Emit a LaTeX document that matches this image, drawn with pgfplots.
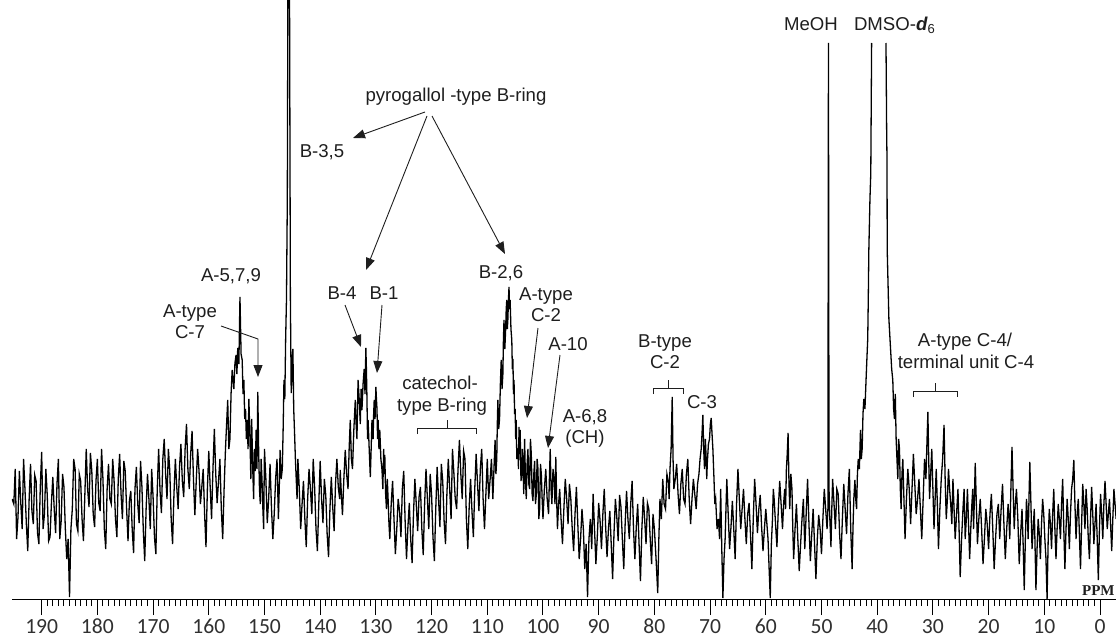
\documentclass[border=0pt]{standalone}
\usepackage{fontspec}
\usepackage{pgfplots}
\pgfplotsset{compat=1.18}
\usetikzlibrary{arrows.meta}
\newfontfamily\arial{Liberation Sans}
\newfontfamily\calib{Carlito}
\newfontfamily\timesf{Liberation Serif}
\definecolor{ink}{HTML}{1E1E1E}
\definecolor{tickgray}{HTML}{303030}

\begin{document}
\begin{tikzpicture}
\begin{axis}[
    at={(6pt,-299.5pt)}, anchor=south west,
    scale only axis, width=552pt, height=299.5pt,
    xmin=-2.87, xmax=195.33, ymin=0, ymax=599,
    x dir=reverse,
    axis x line=bottom, axis y line=none,
    x axis line style={-, line width=0.5pt},
    xtick={0,10,...,190}, minor x tick num=9,
    tick align=outside,
    major tick length=8pt, minor tick length=3.5pt,
    tick style={line width=0.5pt, black},
    xticklabel style={font=\calib\fontsize{10.8}{12}\selectfont, text=tickgray,
        anchor=base, yshift=-9pt, inner sep=0pt,
        /pgf/number format/assume math mode=true},
    unbounded coords=jump,
]
% 13C spectrum, intensity in pixel units above the baseline
\addplot[black, line width=0.65pt] coordinates {
(195.3,100) (195.0,95) (194.75,130) (194.5,60) (194.25,82) (194.0,128) (193.75,96) (193.5,70)
(193.25,140) (193.0,110) (192.75,75) (192.5,48) (192.25,100) (192.0,135) (191.75,88) (191.5,75)
(191.25,124) (191.0,118) (190.75,66) (190.5,55) (190.25,112) (190.0,147) (189.75,70) (189.5,85)
(189.25,130) (189.0,104) (188.75,58) (188.5,62) (188.25,96) (188.0,122) (187.75,90) (187.5,66)
(187.25,115) (187.0,140) (186.75,60) (186.5,78) (186.25,125) (186.0,112) (185.75,70) (185.5,40)
(185.25,60) (185.0,2) (184.75,70) (184.5,90) (184.25,140) (184.0,130) (183.75,75) (183.5,68)
(183.25,125) (183.0,118) (182.75,80) (182.5,58) (182.25,104) (182.0,150) (181.75,110) (181.5,92)
(181.25,146) (181.0,128) (180.75,85) (180.5,72) (180.25,118) (180.0,140) (179.75,96) (179.5,88)
(179.25,150) (179.0,120) (178.75,70) (178.5,50) (178.25,110) (178.0,135) (177.75,100) (177.5,95)
(177.25,140) (177.0,118) (176.75,80) (176.5,62) (176.25,120) (176.0,145) (175.75,105) (175.5,80)
(175.25,138) (175.0,128) (174.75,90) (174.5,58) (174.25,98) (174.0,108) (173.75,70) (173.5,46)
(173.25,110) (173.0,132) (172.75,95) (172.5,76) (172.25,138) (172.0,112) (171.75,68) (171.5,38)
(171.25,90) (171.0,125) (170.75,100) (170.5,70) (170.25,130) (170.0,102) (169.75,62) (169.5,45)
(169.25,110) (169.0,150) (168.75,108) (168.5,86) (168.25,140) (168.0,160) (167.75,125) (167.5,100)
(167.25,150) (167.0,128) (166.75,80) (166.5,55) (166.25,105) (166.0,140) (165.75,112) (165.5,90)
(165.25,132) (165.0,155) (164.75,118) (164.5,102) (164.25,150) (164.0,175) (163.75,130) (163.5,110)
(163.25,145) (163.0,168) (162.75,120) (162.5,84) (162.25,118) (162.0,150) (161.75,128) (161.5,95)
(161.25,112) (161.0,130) (160.75,85) (160.5,52) (160.25,110) (160.0,148) (159.75,112) (159.5,80)
(159.25,130) (159.0,170) (158.75,125) (158.5,96) (158.25,118) (158.0,140) (157.75,90) (157.5,60)
(157.25,110) (157.0,150) (156.8,175) (156.6,199) (156.4,150) (156.2,160) (156.0,205) (155.8,229)
(155.5,210) (155.3,236) (155.1,244) (154.95,225) (154.8,251) (154.6,235) (154.4,302) (154.2,245)
(154.0,239) (153.85,205) (153.7,219) (153.55,180) (153.4,190) (153.25,160) (153.1,179) (152.95,150)
(152.8,200) (152.6,159) (152.45,120) (152.3,180) (152.1,129) (151.95,100) (151.8,150) (151.65,128)
(151.5,169) (151.35,130) (151.2,207) (151.05,150) (150.9,110) (150.75,95) (150.6,140) (150.45,120)
(150.3,92) (150.15,70) (150.0,150) (149.75,120) (149.5,76) (149.25,100) (149.0,135) (148.75,92)
(148.5,60) (148.25,85) (148.0,120) (147.75,140) (147.5,80) (147.35,110) (147.2,149) (147.0,120)
(146.8,130) (146.65,170) (146.5,219) (146.35,200) (146.2,260) (146.05,300) (145.9,400) (145.75,700)
(145.55,700) (145.35,300) (145.2,206) (145.05,230) (144.9,250) (144.75,190) (144.6,166) (144.45,140)
(144.3,120) (144.15,100) (144.0,140) (143.75,110) (143.5,70) (143.25,95) (143.0,118) (142.75,80)
(142.5,52) (142.25,100) (142.0,130) (141.75,110) (141.5,85) (141.25,140) (141.0,112) (140.75,70)
(140.5,48) (140.25,95) (140.0,138) (139.75,100) (139.5,76) (139.25,120) (139.0,104) (138.75,65)
(138.5,42) (138.25,90) (138.0,122) (137.75,92) (137.5,68) (137.25,115) (137.0,140) (136.75,112)
(136.5,100) (136.4,129) (136.2,105) (136.0,84) (135.75,120) (135.5,149) (135.25,125) (135.0,110)
(134.8,150) (134.6,179) (134.4,140) (134.2,130) (133.95,170) (133.7,199) (133.55,175) (133.4,160)
(133.3,190) (133.2,219) (133.0,200) (132.8,175) (132.65,210) (132.5,189) (132.3,215) (132.1,230)
(131.95,205) (131.8,251) (131.7,230) (131.6,200) (131.5,160) (131.4,179) (131.2,150) (131.0,122)
(130.85,150) (130.7,179) (130.6,170) (130.5,160) (130.4,185) (130.3,199) (130.15,180) (130.0,212)
(129.9,200) (129.8,190) (129.7,160) (129.6,179) (129.45,150) (129.3,169) (129.1,140) (128.9,129)
(128.75,110) (128.6,150) (128.5,125) (128.4,144) (128.25,105) (128.1,90) (127.95,120) (127.8,99)
(127.65,75) (127.5,60) (127.25,95) (127.0,118) (126.75,80) (126.5,45) (126.25,70) (126.0,100)
(125.75,88) (125.5,62) (125.25,110) (125.0,128) (124.75,78) (124.5,40) (124.25,72) (124.0,96)
(123.75,60) (123.5,36) (123.25,85) (123.0,120) (122.75,95) (122.5,68) (122.25,102) (122.0,112)
(121.75,70) (121.5,44) (121.25,95) (121.0,130) (120.75,100) (120.5,70) (120.25,125) (120.0,104)
(119.75,62) (119.5,38) (119.25,90) (119.0,132) (118.75,100) (118.5,72) (118.25,135) (118.0,118)
(117.75,78) (117.5,55) (117.25,105) (117.0,140) (116.75,110) (116.5,80) (116.25,150) (116.0,126)
(115.75,100) (115.5,90) (115.25,130) (115.0,159) (114.75,125) (114.5,100) (114.25,148) (114.0,140)
(113.75,80) (113.5,50) (113.25,92) (113.0,120) (112.75,88) (112.5,62) (112.25,110) (112.0,145)
(111.75,115) (111.5,88) (111.25,130) (111.0,150) (110.75,100) (110.5,70) (110.25,105) (110.0,140)
(109.75,100) (109.5,119) (109.25,140) (109.0,100) (108.8,130) (108.6,159) (108.45,125) (108.3,140)
(108.2,175) (108.1,199) (107.95,170) (107.8,180) (107.65,215) (107.5,239) (107.35,210) (107.2,225)
(107.1,260) (107.0,279) (106.85,250) (106.7,270) (106.6,290) (106.5,299) (106.4,270) (106.3,280)
(106.2,300) (106.1,312) (106.0,290) (105.9,299) (105.75,270) (105.6,259) (105.5,230) (105.4,240)
(105.3,205) (105.2,219) (105.1,185) (105.0,190) (104.9,160) (104.8,179) (104.7,140) (104.6,150)
(104.5,149) (104.4,130) (104.3,172) (104.2,145) (104.1,169) (103.95,118) (103.8,125) (103.7,150)
(103.6,134) (103.45,105) (103.3,160) (103.15,120) (103.0,100) (102.85,135) (102.7,150) (102.55,115)
(102.4,110) (102.25,160) (102.1,145) (101.95,105) (101.8,98) (101.65,125) (101.5,138) (101.35,95)
(101.2,104) (101.05,140) (100.9,130) (100.75,80) (100.6,90) (100.45,135) (100.3,125) (100.15,100)
(100.0,80) (99.75,110) (99.5,130) (99.25,100) (99.0,85) (98.85,120) (98.7,150) (98.55,110)
(98.4,95) (98.2,130) (98.0,120) (97.85,95) (97.7,142) (97.55,100) (97.4,70) (97.2,95)
(97.0,110) (96.75,80) (96.5,55) (96.25,90) (96.0,120) (95.75,100) (95.5,75) (95.25,115)
(95.0,100) (94.75,70) (94.5,48) (94.25,85) (94.0,112) (93.75,75) (93.5,40) (93.25,60)
(93.0,90) (92.75,70) (92.5,30) (92.25,55) (92.0,2) (91.75,60) (91.5,80) (91.25,50)
(91.0,105) (90.75,70) (90.5,35) (90.25,62) (90.0,96) (89.75,78) (89.5,50) (89.25,85)
(89.0,110) (88.75,72) (88.5,42) (88.25,70) (88.0,88) (87.75,55) (87.5,20) (87.25,66)
(87.0,100) (86.75,82) (86.5,58) (86.25,104) (86.0,92) (85.75,60) (85.5,30) (85.25,75)
(85.0,108) (84.75,80) (84.5,60) (84.25,95) (84.0,118) (83.75,70) (83.5,40) (83.25,72)
(83.0,95) (82.75,55) (82.5,18) (82.25,70) (82.0,102) (81.75,80) (81.5,55) (81.25,96)
(81.0,90) (80.75,60) (80.5,35) (80.25,85) (80.0,70) (79.7,40) (79.4,6) (79.2,60)
(79.0,100) (78.75,80) (78.5,120) (78.25,95) (78.0,90) (77.75,125) (77.5,118) (77.35,100)
(77.2,130) (77.0,150) (76.8,202) (76.65,140) (76.5,110) (76.25,120) (76.0,135) (75.75,105)
(75.5,85) (75.25,115) (75.0,130) (74.75,100) (74.5,95) (74.25,125) (74.0,140) (73.75,100)
(73.5,75) (73.25,100) (73.0,120) (72.75,105) (72.5,90) (72.25,115) (72.0,125) (71.8,140)
(71.6,150) (71.45,165) (71.3,184) (71.15,150) (71.0,130) (70.85,160) (70.7,140) (70.6,120)
(70.5,136) (70.3,155) (70.1,160) (69.95,175) (69.8,181) (69.65,165) (69.5,150) (69.4,135)
(69.3,120) (69.15,95) (69.0,100) (68.75,70) (68.5,80) (68.3,60) (68.1,110) (67.9,50)
(67.7,1) (67.5,40) (67.3,60) (67.0,120) (66.75,85) (66.5,50) (66.25,72) (66.0,98)
(65.75,70) (65.5,40) (65.25,95) (65.0,130) (64.75,100) (64.5,70) (64.25,90) (64.0,110)
(63.75,80) (63.5,55) (63.25,85) (63.0,96) (62.75,65) (62.5,30) (62.25,80) (62.0,120)
(61.75,95) (61.5,66) (61.25,90) (61.0,104) (60.75,72) (60.5,48) (60.25,70) (60.0,90)
(59.8,75) (59.6,60) (59.4,30) (59.2,1) (59.0,55) (58.8,80) (58.65,110) (58.5,100)
(58.25,75) (58.0,52) (57.75,90) (57.5,118) (57.25,95) (57.0,70) (56.8,95) (56.6,110)
(56.45,90) (56.3,130) (56.15,145) (56.0,166) (55.85,120) (55.7,90) (55.5,125) (55.3,110)
(55.15,70) (55.0,40) (54.75,70) (54.5,95) (54.25,60) (54.0,28) (53.75,55) (53.5,80)
(53.25,100) (53.0,50) (52.75,85) (52.5,120) (52.25,75) (52.0,38) (51.75,65) (51.5,90)
(51.25,55) (51.0,20) (50.75,60) (50.5,84) (50.25,70) (50.0,45) (49.75,80) (49.5,110)
(49.25,90) (49.0,70) (48.85,90) (48.75,556) (48.65,110) (48.5,80) (48.3,52) (48.15,90)
(48.0,120) (47.75,95) (47.5,70) (47.25,110) (47.0,105) (46.75,65) (46.5,40) (46.25,80)
(46.0,115) (45.75,90) (45.5,65) (45.25,105) (45.0,130) (44.75,70) (44.5,30) (44.35,70)
(44.2,100) (44.0,119) (43.85,100) (43.7,90) (43.55,125) (43.4,140) (43.2,130) (43.0,169)
(42.85,140) (42.7,150) (42.55,185) (42.4,200) (42.2,190) (42.0,219) (41.85,240) (41.7,260)
(41.6,300) (41.5,349) (41.3,400) (41.15,426) (41.0,556) (40.0,nan) (38.42,556) (38.30,467)
(38.24,440) (38.2,349) (37.9,280) (37.6,250) (37.4,230) (37.2,219) (37.05,190) (36.9,180)
(36.75,205) (36.6,160) (36.45,140) (36.3,120) (36.15,160) (36.0,150) (35.85,110) (35.7,90)
(35.55,125) (35.4,140) (35.2,100) (35.0,60) (34.75,100) (34.5,130) (34.25,110) (34.0,75)
(33.75,110) (33.5,145) (33.25,115) (33.0,85) (32.75,100) (32.5,120) (32.25,90) (32.0,60)
(31.75,100) (31.5,140) (31.25,120) (31.1,150) (30.9,187) (30.75,140) (30.6,100) (30.4,125)
(30.2,150) (30.0,110) (29.8,70) (29.6,100) (29.4,130) (29.2,95) (29.0,50) (28.75,90)
(28.5,120) (28.25,140) (28.0,174) (27.8,120) (27.6,80) (27.4,100) (27.2,130) (27.0,110)
(26.8,95) (26.6,75) (26.4,120) (26.2,90) (26.0,60) (25.75,85) (25.5,110) (25.3,70)
(25.1,22) (24.85,60) (24.6,90) (24.4,110) (24.2,60) (24.0,80) (23.8,110) (23.6,75)
(23.4,40) (23.2,70) (23.0,95) (22.85,110) (22.7,70) (22.55,100) (22.4,136) (22.2,95)
(22.0,55) (21.75,80) (21.5,100) (21.25,70) (21.0,35) (20.75,60) (20.5,90) (20.25,75)
(20.0,50) (19.75,85) (19.5,105) (19.25,70) (19.0,30) (18.75,60) (18.5,85) (18.25,95)
(18.0,60) (17.75,90) (17.5,115) (17.25,75) (17.0,40) (16.75,70) (16.5,95) (16.35,80)
(16.2,60) (16.0,110) (15.8,152) (15.6,110) (15.4,70) (15.2,95) (15.0,110) (14.75,80)
(14.5,35) (14.25,65) (14.0,90) (13.8,55) (13.6,9) (13.4,60) (13.2,100) (13.05,85)
(12.9,60) (12.75,100) (12.6,137) (12.4,95) (12.2,50) (12.0,70) (11.8,90) (11.65,50)
(11.5,9) (11.3,50) (11.1,80) (10.9,65) (10.7,40) (10.5,75) (10.3,100) (10.1,85)
(9.9,60) (9.7,40) (9.5,0) (9.3,60) (9.1,90) (8.9,75) (8.7,50) (8.5,85)
(8.3,110) (8.1,70) (7.9,40) (7.7,70) (7.5,95) (7.3,80) (7.1,60) (6.9,95)
(6.7,120) (6.5,70) (6.3,30) (6.1,70) (5.9,100) (5.7,80) (5.5,50) (5.3,85)
(5.1,110) (4.9,120) (4.7,139) (4.5,95) (4.3,60) (4.1,85) (3.9,100) (3.7,65)
(3.5,30) (3.3,75) (3.1,115) (2.9,95) (2.7,70) (2.5,110) (2.3,90) (2.1,60)
(1.9,40) (1.7,80) (1.5,112) (1.3,85) (1.1,55) (0.9,75) (0.7,95) (0.5,60)
(0.3,19) (0.1,70) (-0.1,105) (-0.3,85) (-0.5,60) (-0.7,95) (-0.9,118) (-1.1,95)
(-1.3,70) (-1.5,85) (-1.7,100) (-1.9,75) (-2.1,48) (-2.3,80) (-2.5,110) (-2.7,95)
(-2.9,80)
};
\end{axis}

% annotations, in pixel units of the picture (origin top left)
\begin{scope}[x=0.5pt, y=-0.5pt, every node/.style={inner sep=0pt, text=ink,
    font=\arial\fontsize{9.3}{11}\selectfont},
    arr/.style={draw=ink, line width=0.45pt, -{Triangle[width=4.5pt,length=6pt]}}]
\node[anchor=base] at (811,31) {MeOH};
\node[anchor=base] at (895,31) {DMSO-\textit{\textbf{d}}\textsubscript{6}};
\node[anchor=base] at (456,101) {pyrogallol -type B-ring};
\node[anchor=base] at (322,157) {B-3,5};
\node[anchor=base] at (231,281) {A-5,7,9};
\node[anchor=base] at (190,317) {A-type};
\node[anchor=base] at (190,338) {C-7};
\node[anchor=base] at (342,299) {B-4};
\node[anchor=base] at (384,299) {B-1};
\node[anchor=base] at (501,278) {B-2,6};
\node[anchor=base] at (546,300) {A-type};
\node[anchor=base] at (546,321) {C-2};
\node[anchor=base] at (568,350) {A-10};
\node[anchor=base] at (585,422) {A-6,8};
\node[anchor=base] at (585,443) {(CH)};
\node[anchor=base] at (440,389) {catechol-};
\node[anchor=base] at (442,411) {type B-ring};
\node[anchor=base] at (665,347) {B-type};
\node[anchor=base] at (665,368) {C-2};
\node[anchor=base] at (702,408) {C-3};
\node[anchor=base] at (965,346) {A-type C-4/};
\node[anchor=base] at (966,368) {terminal unit C-4};
\node[anchor=base east, font=\timesf\bfseries\fontsize{7.5}{9}\selectfont] at (1115,595) {PPM};

\draw[arr] (425,112) -- (353,138);
\draw[arr] (427,116) -- (366,270);
\draw[arr] (432,116) -- (505,254);
\draw[arr] (221,326) -- (258,339) -- (258,377);
\draw[arr] (345,305) -- (361,347);
\draw[arr] (382,305) -- (377,373);
\draw[arr] (538,328) -- (527,418);
\draw[arr] (560,355) -- (548,448);

\draw[ink, line width=0.45pt] (417,434) -- (417,428) -- (476,428) -- (476,434) (447,428) -- (447,420);
\draw[ink, line width=0.45pt] (653,394) -- (653,388) -- (683,388) -- (683,394) (668,388) -- (668,380);
\draw[ink, line width=0.45pt] (913,397) -- (913,391) -- (957,391) -- (957,397) (935,391) -- (935,383);

\pgfresetboundingbox
\path[use as bounding box] (0,0) rectangle (1116,637);
\end{scope}
\end{tikzpicture}
\end{document}
